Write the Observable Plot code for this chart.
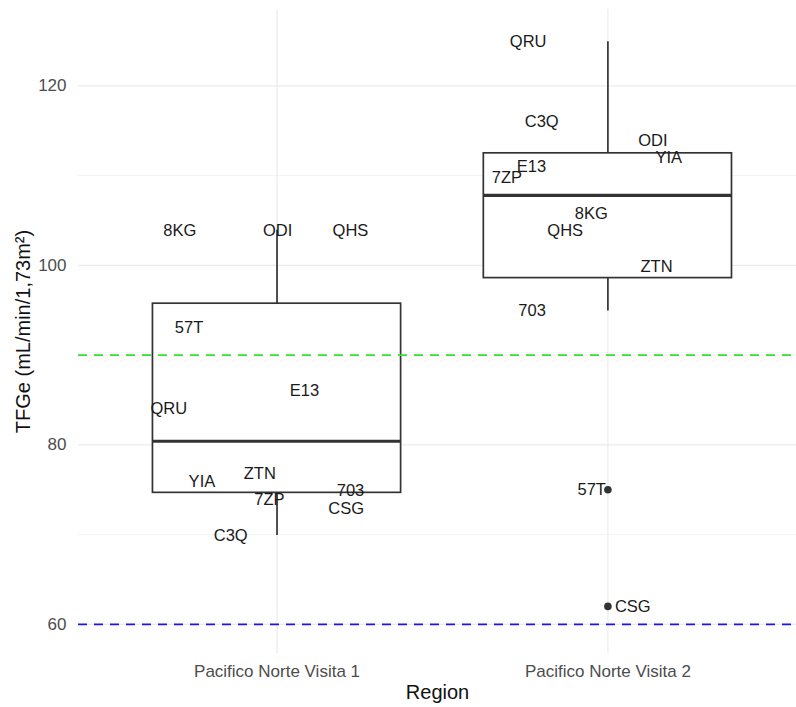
<!DOCTYPE html>
<html>
<head>
<meta charset="utf-8">
<script src="https://cdn.jsdelivr.net/npm/d3@7"></script>
<script src="https://cdn.jsdelivr.net/npm/@observablehq/plot@0.6"></script>
<style>
  body { margin: 0; background: #fff; }
  svg { display: block; }
</style>
</head>
<body>
<div id="chart"></div>
<script>
// ---- data ----
const categories = ["Pacifico Norte Visita 1", "Pacifico Norte Visita 2"];

const ids1    = ["8KG", "ODI", "QHS", "57T", "E13", "QRU", "YIA", "ZTN", "703", "7ZP", "CSG", "C3Q"];
const tfge1   = [103.9, 103.9, 103.9, 93.0, 86.0, 84.0, 75.9, 76.8, 74.9, 73.9, 72.9, 69.9];
const jitter1 = [0.706, 1.002, 1.222, 0.734, 1.083, 0.673, 0.773, 0.948, 1.222, 0.977, 1.209, 0.860];

const ids2    = ["QRU", "C3Q", "ODI", "YIA", "E13", "7ZP", "8KG", "QHS", "ZTN", "703", "57T", "CSG"];
const tfge2   = [124.9, 116.0, 113.9, 112.0, 111.0, 109.8, 105.8, 103.9, 99.8, 94.9, 75.0, 62.0];
const jitter2 = [1.759, 1.800, 2.136, 2.184, 1.769, 1.695, 1.950, 1.871, 2.147, 1.771, 2.0, 2.0];

const referenceLines = [90, 60];
const yTicks = [60, 80, 100, 120];
const yMinorTicks = [70, 90, 110];

// ---- build table ----
const rows = [];
[[ids1, tfge1, jitter1], [ids2, tfge2, jitter2]].forEach(([ids, vals, jit], gi) => {
  ids.forEach((id, i) => rows.push({group: gi + 1, id, value: vals[i], jx: jit[i]}));
});

// box statistics (type-7 quantiles, Tukey fences)
const stats = d3.groups(rows, d => d.group).map(([g, arr]) => {
  const v = arr.map(d => d.value).sort(d3.ascending);
  const q1 = d3.quantile(v, 0.25), median = d3.quantile(v, 0.5), q3 = d3.quantile(v, 0.75);
  const iqr = q3 - q1;
  const lo = d3.min(v.filter(x => x >= q1 - 1.5 * iqr));
  const hi = d3.max(v.filter(x => x <= q3 + 1.5 * iqr));
  return {group: g, q1, median, q3, lo, hi};
});
const statByGroup = new Map(stats.map(s => [s.group, s]));
rows.forEach(d => {
  const s = statByGroup.get(d.group);
  d.outlier = d.value < s.lo || d.value > s.hi;
});
const inliers = rows.filter(d => !d.outlier);
const outliers = rows.filter(d => d.outlier);
// upper outlier labelled on the left, lower one on the right
const outMid = d3.mean(outliers, d => d.value);
const outLeft = outliers.filter(d => d.value >= outMid);
const outRight = outliers.filter(d => d.value < outMid);

const half = 0.375;
const boxStroke = "#333333";

const chart = Plot.plot({
  width: 796,
  height: 707,
  marginLeft: 78,
  marginRight: 0,
  marginTop: 9,
  marginBottom: 54,
  x: {domain: [0.4, 2.57]},
  y: {domain: [56.75, 128.5]},
  style: {fontFamily: "'Liberation Sans', Arial, sans-serif", background: "white"},
  marks: [
    // grid
    Plot.ruleY(yMinorTicks, {stroke: "#ededed", strokeWidth: 0.7}),
    Plot.ruleY(yTicks, {stroke: "#ebebeb", strokeWidth: 1.2}),
    Plot.ruleX([1, 2], {stroke: "#ebebeb", strokeWidth: 1.2}),
    // whiskers
    Plot.ruleX(stats, {x: "group", y1: "q3", y2: "hi", stroke: boxStroke, strokeWidth: 1.7}),
    Plot.ruleX(stats, {x: "group", y1: "lo", y2: "q1", stroke: boxStroke, strokeWidth: 1.7}),
    // boxes
    Plot.rect(stats, {
      x1: d => d.group - half, x2: d => d.group + half,
      y1: "q1", y2: "q3",
      fill: "white", stroke: boxStroke, strokeWidth: 1.7
    }),
    Plot.ruleY(stats, {
      y: "median", x1: d => d.group - half, x2: d => d.group + half,
      stroke: boxStroke, strokeWidth: 3.2
    }),
    // outlier points
    Plot.dot(outliers, {x: "group", y: "value", r: 3.8, fill: boxStroke, stroke: null}),
    // reference lines
    Plot.ruleY([referenceLines[0]], {stroke: "#33e033", strokeWidth: 1.8, strokeDasharray: "9,7"}),
    Plot.ruleY([referenceLines[1]], {stroke: "#1515f0", strokeWidth: 1.8, strokeDasharray: "9,7"}),
    // labels
    Plot.text(inliers, {x: "jx", y: "value", text: "id", fontSize: 16.5, fill: "#1a1a1a"}),
    Plot.text(outLeft, {x: "jx", y: "value", text: "id", fontSize: 16.5, fill: "#1a1a1a", textAnchor: "end", dx: -2}),
    Plot.text(outRight, {x: "jx", y: "value", text: "id", fontSize: 16.5, fill: "#1a1a1a", textAnchor: "start", dx: 7}),
    // axes
    Plot.axisY(yTicks, {tickSize: 0, tickPadding: 12, fontSize: 17, fill: "#4d4d4d", label: null}),
    Plot.axisX([1, 2], {
      tickSize: 0, tickPadding: 11, fontSize: 17, fill: "#4d4d4d", label: null,
      tickFormat: d => categories[d - 1]
    }),
    // axis titles
    Plot.text(["Region"], {frameAnchor: "bottom", lineAnchor: "middle", textAnchor: "middle", dy: 39.5, fontSize: 20, fill: "#111"}),
    Plot.text(["TFGe (mL/min/1,73m²)"], {frameAnchor: "left", textAnchor: "middle", lineAnchor: "middle", dx: -55, rotate: -90, fontSize: 20, fill: "#111"})
  ]
});

document.getElementById("chart").appendChild(chart);
</script>
</body>
</html>
